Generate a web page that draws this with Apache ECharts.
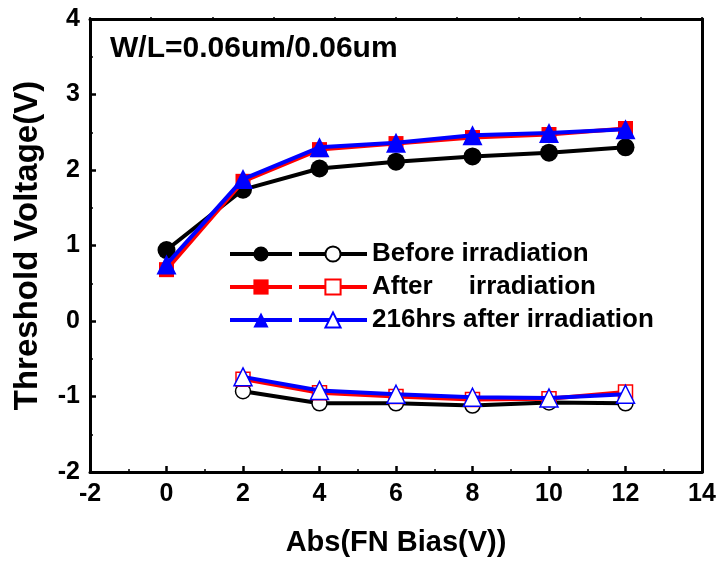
<!DOCTYPE html>
<html>
<head>
<meta charset="utf-8">
<title>Threshold Voltage vs FN Bias</title>
<script src="https://cdn.jsdelivr.net/npm/echarts@6/dist/echarts.min.js"></script>
<style>
  html, body { margin: 0; padding: 0; background: #fff; }
  #chart { width: 720px; height: 568px; }
</style>
</head>
<body>
<div id="chart"></div>
<script>
// FN bias magnitudes (V)
const biasUpper = [0, 2, 4, 6, 8, 10, 12];
const biasLower = [2, 4, 6, 8, 10, 12];

// Positive threshold-voltage branch (filled markers), V
const beforeUpper = [0.94, 1.74, 2.02, 2.11, 2.18, 2.23, 2.30];
const afterUpper  = [0.68, 1.85, 2.27, 2.35, 2.43, 2.47, 2.55];
const hrsUpper    = [0.75, 1.88, 2.30, 2.36, 2.46, 2.49, 2.54];

// Negative threshold-voltage branch (open markers), V
const beforeLower = [-0.93, -1.09, -1.09, -1.12, -1.08, -1.09];
const afterLower  = [-0.77, -0.95, -1.00, -1.04, -1.03, -0.94];
const hrsLower    = [-0.74, -0.92, -0.97, -1.01, -1.02, -0.97];

// Legend labels
const legendLabels = ['Before irradiation', 'After     irradiation', '216hrs after irradiation'];

const xTicks = { min: -2, max: 14, interval: 2 };
const yTicks = { min: -2, max: 4, interval: 1 };

const FONT = '"Liberation Sans", Arial, Helvetica, sans-serif';
const colors = ['#000000', '#ff0000', '#0000ff'];
const shapes = ['circle', 'rect', 'triangle'];
const filledSizes = [18, 15, 20];
const openSizes = [15, 14, 18];

function pairs(xs, ys) { return xs.map((x, i) => [x, ys[i]]); }

const upperSets = [beforeUpper, afterUpper, hrsUpper];
const lowerSets = [beforeLower, afterLower, hrsLower];
const upperNames = legendLabels.map(s => s + ' +');
const lowerNames = legendLabels.slice();

const series = [];
upperSets.forEach((ys, i) => {
  series.push({
    name: upperNames[i],
    type: 'line',
    data: pairs(biasUpper, ys),
    symbol: shapes[i],
    symbolSize: filledSizes[i],
    lineStyle: { color: colors[i], width: 4 },
    itemStyle: { color: colors[i] },
    emphasis: { disabled: true },
    z: 2 + i
  });
});
lowerSets.forEach((ys, i) => {
  series.push({
    name: lowerNames[i],
    type: 'line',
    data: pairs(biasLower, ys),
    symbol: shapes[i],
    symbolSize: openSizes[i],
    lineStyle: { color: colors[i], width: 4 },
    itemStyle: { color: '#ffffff', borderColor: colors[i], borderWidth: 1.5 },
    emphasis: { disabled: true },
    z: 2 + i
  });
});

const labelFont = { fontFamily: FONT, fontWeight: 'bold', color: '#000' };

const chart = echarts.init(document.getElementById('chart'), null, { renderer: 'canvas' });
chart.setOption({
  animation: false,
  backgroundColor: '#ffffff',
  title: {
    text: 'W/L=0.06um/0.06um',
    left: 110,
    top: 34,
    padding: 0,
    textStyle: Object.assign({ fontSize: 30 }, labelFont)
  },
  grid: { left: 90, right: 18, top: 19, bottom: 96, containLabel: false },
  legend: [
    {
      data: upperNames,
      orient: 'vertical',
      left: 228,
      top: 241,
      itemWidth: 62,
      itemHeight: 19,
      itemGap: 7,
      padding: 0,
      selectedMode: false,
      lineStyle: { width: 4 },
      formatter: () => '\u200b',
      textStyle: Object.assign({ fontSize: 26 }, labelFont)
    },
    {
      data: lowerNames,
      orient: 'vertical',
      left: 297,
      top: 241,
      itemWidth: 68,
      itemHeight: 19,
      itemGap: 7,
      padding: 0,
      selectedMode: false,
      lineStyle: { width: 4 },
      textStyle: Object.assign({ fontSize: 26 }, labelFont)
    }
  ],
  xAxis: [
    {
      type: 'value',
      position: 'bottom',
      min: xTicks.min,
      max: xTicks.max,
      interval: xTicks.interval,
      name: 'Abs(FN Bias(V))',
      nameLocation: 'middle',
      nameGap: 56,
      nameTextStyle: Object.assign({ fontSize: 29 }, labelFont),
      axisLine: { show: true, onZero: false, lineStyle: { color: '#000', width: 3 } },
      axisTick: { show: true, inside: true, length: 6, lineStyle: { color: '#000', width: 2.5 } },
      minorTick: { show: true, splitNumber: 2, length: 3, lineStyle: { color: '#000', width: 1.5 } },
      axisLabel: Object.assign({ fontSize: 25, margin: 10 }, labelFont),
      splitLine: { show: false }
    },
    {
      type: 'value',
      position: 'top',
      min: 0,
      max: 10,
      interval: 1,
      axisLine: { show: true, onZero: false, lineStyle: { color: '#000', width: 3 } },
      axisTick: { show: true, inside: false, length: 2, lineStyle: { color: '#000', width: 1.5 } },
      axisLabel: { show: false },
      splitLine: { show: false }
    }
  ],
  yAxis: [
    {
      type: 'value',
      position: 'left',
      min: yTicks.min,
      max: yTicks.max,
      interval: yTicks.interval,
      name: 'Threshold Voltage(V)',
      nameLocation: 'middle',
      nameGap: 46,
      nameTextStyle: Object.assign({ fontSize: 33 }, labelFont),
      axisLine: { show: true, onZero: false, lineStyle: { color: '#000', width: 3 } },
      axisTick: { show: true, inside: true, length: 6, lineStyle: { color: '#000', width: 2.5 } },
      minorTick: { show: true, splitNumber: 2, length: 3, lineStyle: { color: '#000', width: 1.5 } },
      axisLabel: Object.assign({ fontSize: 25, margin: 10 }, labelFont),
      splitLine: { show: false }
    },
    {
      type: 'value',
      position: 'right',
      min: 0,
      max: 12,
      interval: 1,
      axisLine: { show: true, onZero: false, lineStyle: { color: '#000', width: 3 } },
      axisTick: { show: true, inside: false, length: 2, lineStyle: { color: '#000', width: 1.5 } },
      axisLabel: { show: false },
      splitLine: { show: false }
    }
  ],
  series: series
});
</script>
</body>
</html>
